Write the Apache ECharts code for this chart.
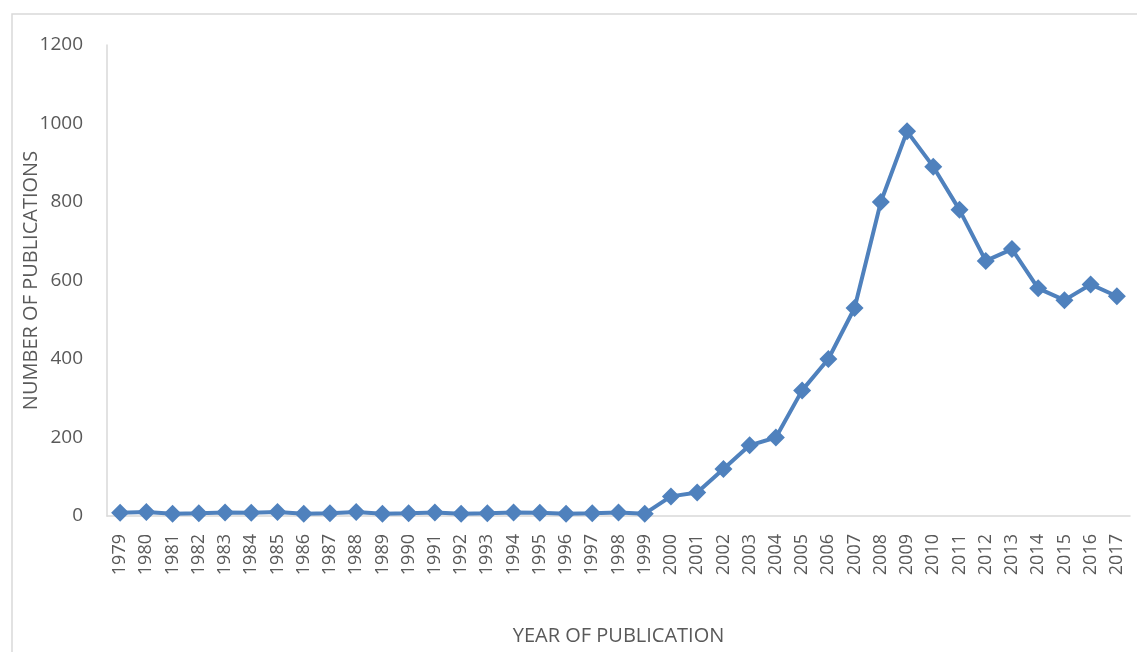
<!DOCTYPE html>
<html><head><meta charset="utf-8">
<script src="https://cdn.jsdelivr.net/npm/echarts@6/dist/echarts.min.js"></script>
<style>html,body{margin:0;padding:0;background:#fff}#c{width:1137px;height:652px}</style>
</head><body><div id="c"></div>
<script>
const years = ['1979','1980','1981','1982','1983','1984','1985','1986','1987','1988','1989','1990','1991','1992','1993','1994','1995','1996','1997','1998','1999','2000','2001','2002','2003','2004','2005','2006','2007','2008','2009','2010','2011','2012','2013','2014','2015','2016','2017'];
const publications = [8,10,6,7,9,8,10,6,7,10,6,7,9,6,7,9,8,6,7,9,6,50,60,120,180,200,320,400,530,800,980,890,780,650,680,580,550,590,560];
const yTicks = {min:0, max:1200, interval:200};

const chart = echarts.init(document.getElementById('c'));
chart.setOption({
  animation:false,
  graphic:[{type:'rect',shape:{x:12,y:14,width:1140,height:660},style:{fill:'none',stroke:'#D9D9D9',lineWidth:1.5},silent:true}],
  grid:{left:107,right:7,top:45,bottom:136},
  xAxis:{type:'category',data:years,boundaryGap:true,
    name:'YEAR OF PUBLICATION',nameLocation:'middle',nameGap:110,nameMoveOverlap:false,
    nameTextStyle:{color:'#595959',fontFamily:'Open Sans',fontSize:20},
    axisLine:{lineStyle:{color:'#D9D9D9',width:1.5}},axisTick:{show:false},
    axisLabel:{rotate:90,color:'#595959',fontFamily:'Open Sans',fontSize:18,margin:18,interval:0}},
  yAxis:{type:'value',min:yTicks.min,max:yTicks.max,interval:yTicks.interval,
    name:'NUMBER OF PUBLICATIONS',nameLocation:'middle',nameGap:66,nameMoveOverlap:false,
    nameTextStyle:{color:'#595959',fontFamily:'Open Sans',fontSize:20},
    axisLine:{show:true,lineStyle:{color:'#D9D9D9',width:1.5}},axisTick:{show:false},splitLine:{show:false},
    axisLabel:{color:'#595959',fontFamily:'Open Sans',fontSize:19,margin:24,formatter:function(v){return String(v);}}},
  series:[{type:'line',data:publications,symbol:'diamond',symbolSize:18,
    lineStyle:{color:'#4F81BD',width:4},itemStyle:{color:'#4F81BD'}}]
});
</script></body></html>
